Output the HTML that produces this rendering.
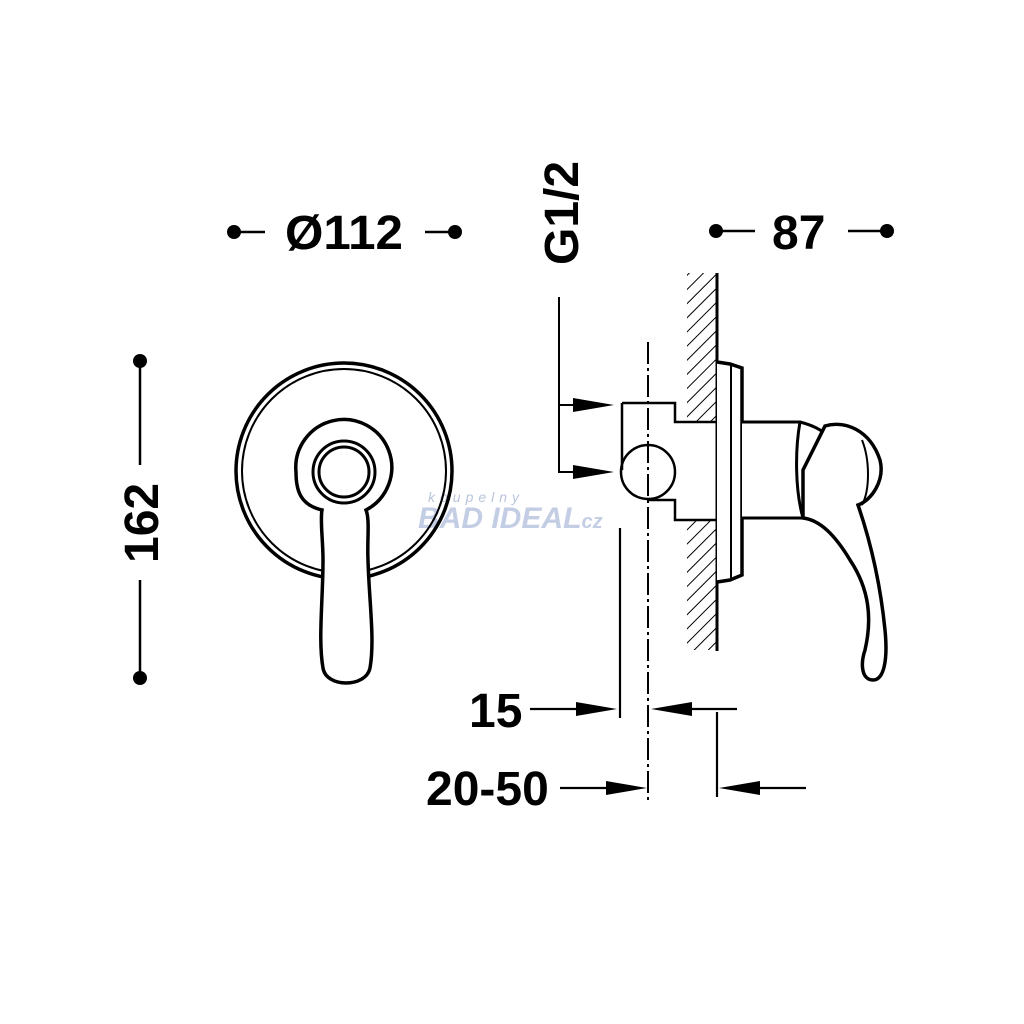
<!DOCTYPE html>
<html><head><meta charset="utf-8"><style>
html,body{margin:0;padding:0;background:#fff}
svg{display:block}
text{font-family:"Liberation Sans",Arial,sans-serif;font-weight:bold;fill:#000}
</style></head><body>
<svg width="1024" height="1024" viewBox="0 0 1024 1024" xmlns="http://www.w3.org/2000/svg">
<defs>
<pattern id="hatch" width="10" height="10" patternUnits="userSpaceOnUse" patternTransform="rotate(45)">
<line x1="0" y1="0" x2="0" y2="10" stroke="#000" stroke-width="2"/>
</pattern>
</defs>

<!-- watermark -->
<text x="428" y="502" font-size="14" style="font-weight:normal;font-style:italic;fill:#b8c4dc;letter-spacing:5px">koupelny</text>
<text x="418" y="528" font-size="30" style="font-style:italic;fill:#c3cde4">BAD IDEAL</text>
<text x="576" y="528" font-size="20" style="font-style:italic;fill:#c3cde4">.cz</text>

<!-- top dims -->
<circle cx="234" cy="232" r="7"/><line x1="234" y1="232" x2="265" y2="232" stroke="#000" stroke-width="2.5"/>
<circle cx="455" cy="232" r="7"/><line x1="425" y1="232" x2="455" y2="232" stroke="#000" stroke-width="2.5"/>
<text x="285" y="249" font-size="48" textLength="118" lengthAdjust="spacingAndGlyphs">Ø112</text>

<circle cx="716" cy="231" r="7"/><line x1="716" y1="231" x2="755" y2="231" stroke="#000" stroke-width="2.5"/>
<circle cx="887" cy="231" r="7"/><line x1="848" y1="231" x2="887" y2="231" stroke="#000" stroke-width="2.5"/>
<text x="772" y="249" font-size="48">87</text>

<text transform="translate(578,265) rotate(-90)" font-size="48">G1/2</text>

<circle cx="140" cy="361" r="7"/><line x1="140" y1="361" x2="140" y2="465" stroke="#000" stroke-width="2.5"/>
<circle cx="140" cy="678" r="7"/><line x1="140" y1="580" x2="140" y2="678" stroke="#000" stroke-width="2.5"/>
<text transform="translate(158,563) rotate(-90)" font-size="48">162</text>

<!-- front view -->
<g fill="none" stroke="#000">
<circle cx="344" cy="471" r="108" stroke-width="3.5"/>
<circle cx="344" cy="471" r="102" stroke-width="2"/>
<path d="M322,510 C300,505 296,490 296,472 A48,48 0 1 1 366,510 C370,520 367,540 368,560 C369,600 375,640 370,668 C366,688 326,688 323,668 C318,640 323,600 323,560 C323,540 320,520 322,510 Z" fill="#fff" stroke-width="3.5"/>
<circle cx="344" cy="472" r="31" stroke-width="3"/>
<circle cx="344" cy="472" r="25" stroke-width="3"/>
</g>

<!-- side view -->
<rect x="687" y="273" width="30" height="149" fill="url(#hatch)"/>
<rect x="687" y="520" width="30" height="130" fill="url(#hatch)"/>
<g fill="none" stroke="#000">
<line x1="717" y1="273" x2="717" y2="651" stroke-width="3"/>
<path d="M717,362 L730,364 L742,368 L742,575 L730,580 L717,582" stroke-width="3.5" fill="#fff"/>
<line x1="731" y1="366" x2="731" y2="578" stroke-width="2"/>
<path d="M622,403 L675,403 L675,422 L717,422 M717,520 L675,520 L675,500 L648,500" stroke-width="2.5"/>
<line x1="622" y1="403" x2="622" y2="470" stroke-width="2.5"/>
<circle cx="648" cy="472" r="27" stroke-width="2.5"/>
<line x1="648" y1="342" x2="648" y2="800" stroke-width="2" stroke-dasharray="22,4,3,4"/>
<path d="M742,422 L800,422 C815,426 820,430 825,433 L803,470 L803,518 L742,518" stroke-width="3" fill="#fff"/>
<path d="M800,422 C795,450 795,490 803,518" stroke-width="3"/>
<path d="M825,426 C845,420 870,430 880,460 C885,480 872,500 858,505 C870,540 880,580 885,630 C888,660 884,680 873,680 C862,680 860,665 865,650 C872,620 870,590 850,560 C835,535 820,520 803,518 L803,470 Z" stroke-width="3.5" fill="#fff"/>
<path d="M862,440 C870,460 870,490 862,505" stroke-width="2"/>
<path d="M559,297 L559,472 L590,472 M559,405 L590,405" stroke-width="2"/>
</g>
<polygon points="614,405 573,398 573,412"/>
<polygon points="614,472 573,465 573,479"/>

<!-- bottom dims -->
<g stroke="#000" stroke-width="2.2">
<line x1="620" y1="528" x2="620" y2="718"/>
<line x1="717" y1="712" x2="717" y2="797"/>
<line x1="530" y1="709" x2="590" y2="709"/>
<line x1="680" y1="709" x2="737" y2="709"/>
<line x1="560" y1="788" x2="620" y2="788"/>
<line x1="750" y1="788" x2="806" y2="788"/>
</g>
<polygon points="617,709 576,702 576,716"/>
<polygon points="651,709 692,702 692,716"/>
<polygon points="647,788 606,781 606,795"/>
<polygon points="719,788 760,781 760,795"/>
<text x="469" y="727" font-size="48">15</text>
<text x="426" y="805" font-size="48">20-50</text>
</svg>
</body></html>
